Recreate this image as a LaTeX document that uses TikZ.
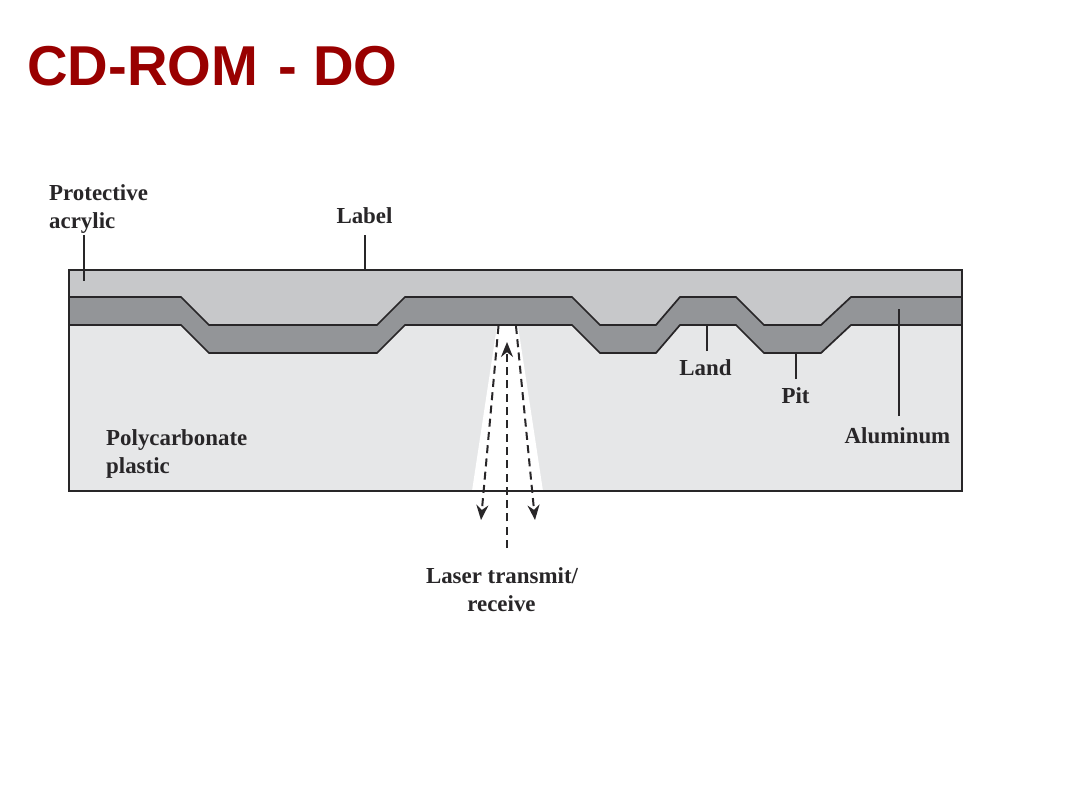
\documentclass[tikz,border=0pt]{standalone}
\usepackage{fontspec}
\setmainfont{Liberation Serif}
\newfontfamily\titlefont{Liberation Sans}
\usetikzlibrary{arrows.meta}
\definecolor{titlered}{RGB}{153,0,0}
\definecolor{acrylicgray}{RGB}{199,200,202}
\definecolor{aluminumgray}{RGB}{147,149,152}
\definecolor{plasticgray}{RGB}{230,231,232}
\definecolor{edgegray}{RGB}{40,38,40}
\tikzset{
  lbl/.style={font=\fontsize{22.9}{28}\selectfont\bfseries, text=edgegray, inner sep=0pt, align=left},
  leader/.style={edgegray, line width=1.9pt},
  edge/.style={edgegray, line width=1.7pt},
  beam/.style={edgegray, line width=2pt, dash pattern=on 8pt off 5.3pt},
  beamtip/.style={-{Stealth[length=15pt,width=12pt]}}
}
\begin{document}
\begin{tikzpicture}[x=1pt,y=-1pt]
\useasboundingbox (0,0) rectangle (1066,800);
\fill[white] (0,0) rectangle (1066,800);
\node[anchor=base west, inner sep=0pt, font=\fontsize{56.2}{56}\selectfont\bfseries\titlefont, text=titlered] (title) at (27,85) {CD-ROM\hspace{5pt} - DO};
% layers
\fill[plasticgray]  (69,270) rectangle (962,491);
\def\upper{(181,297) -- (209,325) -- (377,325) -- (405,297) -- (572,297) -- (600,325) -- (656,325) -- (680,297) -- (736,297) -- (764,325) -- (821,325) -- (851,297)}
\def\lower{(851,325) -- (821,353) -- (764,353) -- (736,325) -- (680,325) -- (656,353) -- (600,353) -- (572,325) -- (405,325) -- (377,353) -- (209,353) -- (181,325)}
\fill[acrylicgray] (69,270) -- (962,270) -- (962,297) -- (851,297) -- (821,325) -- (764,325) -- (736,297) -- (680,297) -- (656,325) -- (600,325) -- (572,297) -- (405,297) -- (377,325) -- (209,325) -- (181,297) -- (69,297) -- cycle;
\fill[aluminumgray] (69,297) -- \upper -- (962,297) -- (962,325) -- \lower -- (69,325) -- cycle;
\draw[edge] (69,297) -- \upper -- (962,297);
\draw[edge] (962,325) -- \lower -- (69,325);
% beam
\fill[white] (497,326) -- (518,326) -- (543,491) -- (472,491) -- cycle;
\draw[edge] (69,270) rectangle (962,491);
\coordinate (topleft)  at (498.5,326);
\coordinate (topright) at (516,326);
\coordinate (downleft)  at (481,520);
\coordinate (downright) at (535,520);
\coordinate (source) at (507,548);
\coordinate (focus)  at (507,342);
\draw[beam,beamtip] (topleft)  -- (downleft);
\draw[beam,beamtip] (topright) -- (downright);
\draw[beam,beamtip] (source) -- (focus);
% labels
\node[lbl, anchor=base west] (protective) at (49,200) {Protective};
\node[lbl, anchor=base west] (acrylic)    at (49,228) {acrylic};
\node[lbl, anchor=base]      (label)      at (364.5,223) {Label};
\node[lbl, anchor=base]      (land)       at (705.5,375) {Land};
\node[lbl, anchor=base]      (pit)        at (795.5,403) {Pit};
\node[lbl, anchor=base]      (aluminum)   at (897.5,443) {Aluminum};
\node[lbl, anchor=base west] (polycarbonate) at (106,445) {Polycarbonate};
\node[lbl, anchor=base west] (plastic)    at (106,473) {plastic};
\node[lbl, anchor=base]      (laser)      at (502,583) {Laser transmit/};
\node[lbl, anchor=base]      (receive)    at (501.5,611) {receive};
% leaders
\coordinate (acrylicend) at (84,235);
\coordinate (acrylicpt)  at (84,281);
\coordinate (labelend)   at (365,235);
\coordinate (labelpt)    at (365,270);
\coordinate (landend)    at (707,351);
\coordinate (landpt)     at (707,325);
\coordinate (pitend)     at (796,379);
\coordinate (pitpt)      at (796,353);
\coordinate (alumend)    at (899,416);
\coordinate (alumpt)     at (899,309);
\foreach \a/\b in {acrylicend/acrylicpt, labelend/labelpt, landend/landpt, pitend/pitpt, alumend/alumpt}
{
\draw[leader] (\a) -- (\b);
}
\end{tikzpicture}
\end{document}
